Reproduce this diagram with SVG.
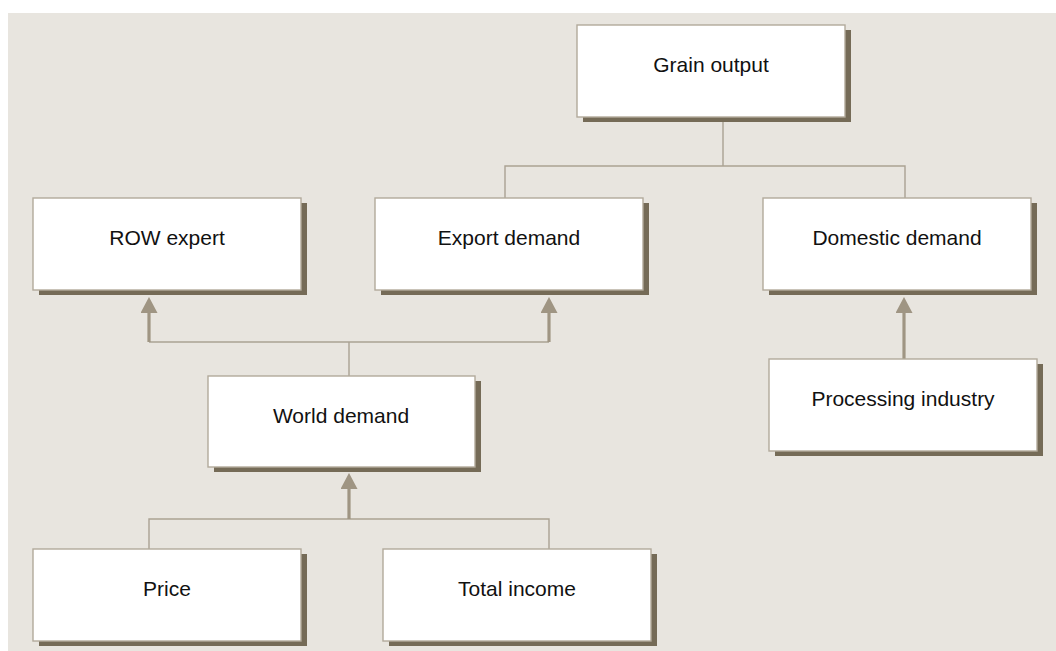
<svg xmlns="http://www.w3.org/2000/svg" width="1056" height="651" viewBox="0 0 1056 651">
  <style>
    .shadow { fill: #756b57; }
    .box { fill: #ffffff; stroke: #b2aa9b; stroke-width: 1.4; }
    .label { font-family: "Liberation Sans", Arial, sans-serif; font-size: 21px; fill: #111111; text-anchor: middle; }
    .conn { fill: none; stroke: #aaa293; stroke-width: 1.4; }
    .arrow { fill: none; stroke: #9f9583; stroke-width: 3.2; }
  </style>
  <defs>
    <marker id="ah" viewBox="0 0 16 17" markerUnits="userSpaceOnUse" markerWidth="16" markerHeight="17" refX="0" refY="8.5" orient="auto">
      <path d="M0,0 L16,8.5 L0,17 z" fill="#9f9583"/>
    </marker>
  </defs>
  <rect x="8" y="13" width="1048" height="638" fill="#e8e5df"/>

  <g id="connectors">
    <path class="conn" d="M723,117 V166"/>
    <path class="conn" d="M505,198 V166 H905 V198"/>
    <path class="conn" d="M349,376 V342"/>
    <path class="conn" d="M149,342 H549"/>
    <path class="arrow" d="M149,342 V313" marker-end="url(#ah)"/>
    <path class="arrow" d="M549,342 V313" marker-end="url(#ah)"/>
    <path class="conn" d="M149,549 V519 H549 V549"/>
    <path class="arrow" d="M349,519 V489" marker-end="url(#ah)"/>
    <path class="arrow" d="M904,359 V313" marker-end="url(#ah)"/>
  </g>

  <g id="grain-output">
    <rect class="shadow" x="583" y="30" width="268" height="92"/>
    <rect class="box" x="577" y="25" width="268" height="92"/>
    <text class="label" x="711" y="72">Grain output</text>
  </g>
  <g id="row-expert">
    <rect class="shadow" x="39" y="203" width="268" height="92"/>
    <rect class="box" x="33" y="198" width="268" height="92"/>
    <text class="label" x="167" y="245">ROW expert</text>
  </g>
  <g id="export-demand">
    <rect class="shadow" x="381" y="203" width="268" height="92"/>
    <rect class="box" x="375" y="198" width="268" height="92"/>
    <text class="label" x="509" y="245">Export demand</text>
  </g>
  <g id="domestic-demand">
    <rect class="shadow" x="769" y="203" width="268" height="92"/>
    <rect class="box" x="763" y="198" width="268" height="92"/>
    <text class="label" x="897" y="245">Domestic demand</text>
  </g>
  <g id="world-demand">
    <rect class="shadow" x="214" y="381" width="267" height="91"/>
    <rect class="box" x="208" y="376" width="267" height="91"/>
    <text class="label" x="341" y="423">World demand</text>
  </g>
  <g id="processing-industry">
    <rect class="shadow" x="775" y="364" width="268" height="92"/>
    <rect class="box" x="769" y="359" width="268" height="92"/>
    <text class="label" x="903" y="406">Processing industry</text>
  </g>
  <g id="price">
    <rect class="shadow" x="39" y="554" width="268" height="92"/>
    <rect class="box" x="33" y="549" width="268" height="92"/>
    <text class="label" x="167" y="596">Price</text>
  </g>
  <g id="total-income">
    <rect class="shadow" x="389" y="554" width="268" height="92"/>
    <rect class="box" x="383" y="549" width="268" height="92"/>
    <text class="label" x="517" y="596">Total income</text>
  </g>
</svg>
